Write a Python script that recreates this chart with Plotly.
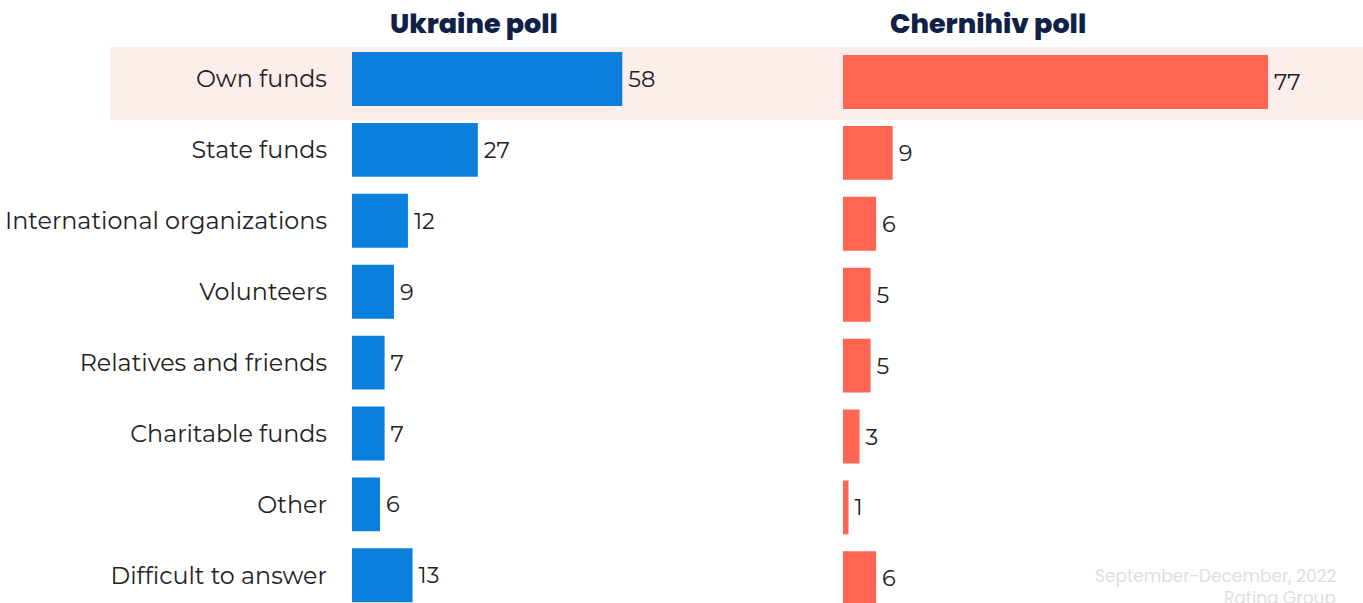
import plotly.graph_objects as go

categories = ["Own funds", "State funds", "International organizations", "Volunteers",
              "Relatives and friends", "Charitable funds", "Other", "Difficult to answer"]
ukraine = [58, 27, 12, 9, 7, 7, 6, 13]
chernihiv = [77, 9, 6, 5, 5, 3, 1, 6]

W, H = 1363, 603
ROW0, STEP = 79, 70.9  # pixel centre of first row, row spacing


def idx(py):
    return (py - ROW0) / STEP


label_font = dict(size=22.5, color="#222222", family="Montserrat, Noto Sans, sans-serif")

fig = go.Figure()

fig.add_trace(go.Bar(
    y=categories, x=ukraine, orientation="h",
    marker=dict(color="#0a7fdc", line=dict(width=0)),
    width=0.76, text=ukraine, texttemplate="\u2009%{x}", textposition="outside",
    textfont=label_font, cliponaxis=False, xaxis="x", yaxis="y", showlegend=False
))

fig.add_trace(go.Bar(
    y=categories, x=chernihiv, orientation="h",
    marker=dict(color="#fe6553", line=dict(width=0)),
    width=0.76, text=chernihiv, texttemplate="\u2009%{x}", textposition="outside",
    textfont=label_font, cliponaxis=False, xaxis="x2", yaxis="y2", showlegend=False
))

fig.add_shape(type="rect", xref="paper", yref="paper",
              x0=110 / W, x1=1, y0=1 - 120 / H, y1=1 - 47 / H,
              fillcolor="#fdeeec", line=dict(width=0), layer="below")

title_font = dict(family="Poppins, Inter, Noto Sans, sans-serif", size=27, color="#0f2147", weight=800)
fig.add_annotation(text="Ukraine poll", x=474 / W, y=1 - 23 / H, xref="paper", yref="paper",
                   xanchor="center", yanchor="middle", showarrow=False, font=title_font)
fig.add_annotation(text="Chernihiv poll", x=988 / W, y=1 - 23 / H, xref="paper", yref="paper",
                   xanchor="center", yanchor="middle", showarrow=False, font=title_font)

foot_font = dict(family="Poppins, Noto Sans, sans-serif", size=17, color="#dedede")
fig.add_annotation(text="September-December, 2022", x=1338 / W, y=1 - 576 / H, xref="paper", yref="paper",
                   xanchor="right", yanchor="middle", showarrow=False, font=foot_font)
fig.add_annotation(text="Rating Group", x=1338 / W, y=1 - 598 / H, xref="paper", yref="paper",
                   xanchor="right", yanchor="middle", showarrow=False, font=foot_font)

left_px = (352, 780)
right_px = (843, 1363)
fig.update_layout(
    width=W, height=H,
    margin=dict(l=0, r=0, t=0, b=0),
    paper_bgcolor="white", plot_bgcolor="rgba(0,0,0,0)",
    xaxis=dict(domain=[left_px[0] / W, left_px[1] / W],
               range=[0, (left_px[1] - left_px[0]) / 4.66],
               visible=False, fixedrange=True),
    xaxis2=dict(domain=[right_px[0] / W, right_px[1] / W],
                range=[0, (right_px[1] - right_px[0]) / 5.52],
                visible=False, fixedrange=True),
    yaxis=dict(anchor="x", categoryorder="array", categoryarray=categories,
               range=[idx(H), idx(0)], showgrid=False, zeroline=False, showline=False,
               ticks="", ticklabelstandoff=24, fixedrange=True,
               tickfont=dict(size=23.8, color="#222222", family="Montserrat, Noto Sans, sans-serif")),
    yaxis2=dict(anchor="x2", overlaying="y", categoryorder="array", categoryarray=categories,
                range=[idx(H - 3), idx(-3)], showgrid=False, zeroline=False, showline=False,
                showticklabels=False, fixedrange=True),
)

fig.write_html("out.html", config={"displayModeBar": False},
               post_script="document.body.style.margin='0';")
